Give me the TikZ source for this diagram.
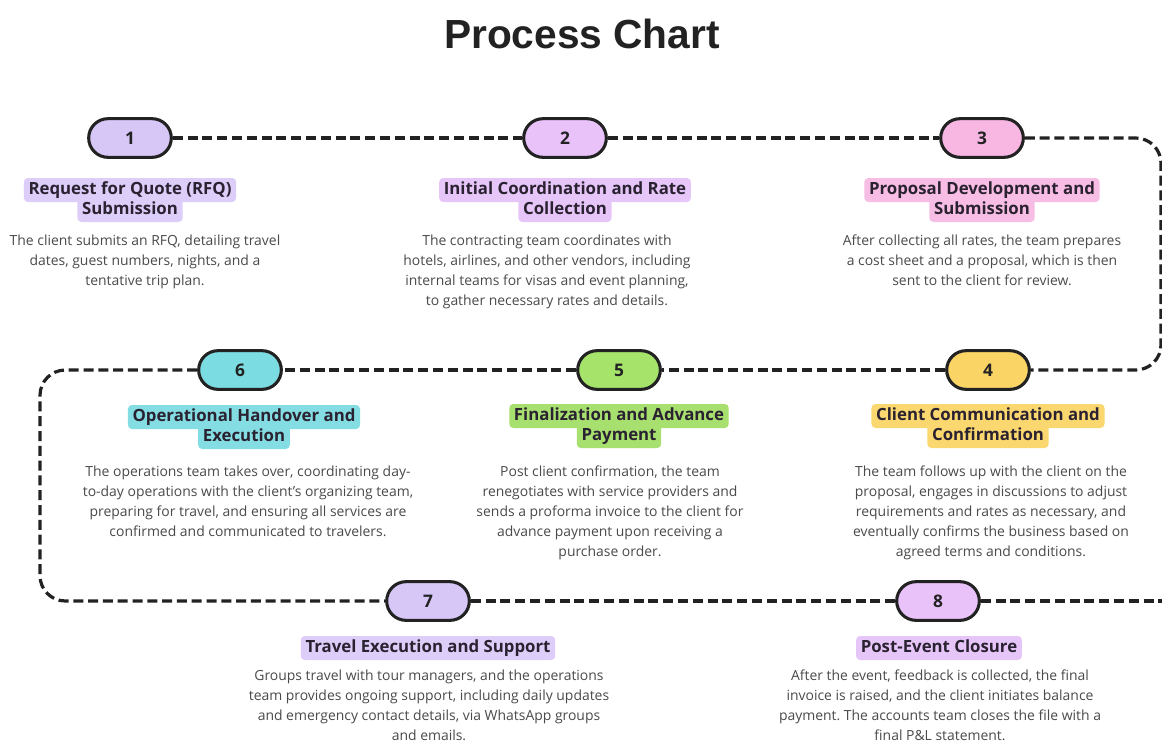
\documentclass[tikz,border=0pt]{standalone}
\usepackage{fontspec}
\setmainfont{Open Sans}
\newfontfamily\titlefont{Liberation Sans}
\usetikzlibrary{arrows}
\usepackage{xcolor}
\frenchspacing
\definecolor{ink}{HTML}{222222}
\definecolor{bodygray}{HTML}{4A4A4A}
\definecolor{tagink}{HTML}{2A2230}
\definecolor{lavpill}{HTML}{D7C7F7}
\definecolor{lavtag}{HTML}{DCCDF9}
\definecolor{orchpill}{HTML}{E9C2F9}
\definecolor{orchtag}{HTML}{E6C6F9}
\definecolor{pinkpill}{HTML}{F8B6E2}
\definecolor{pinktag}{HTML}{F7BDE5}
\definecolor{yelpill}{HTML}{FBD466}
\definecolor{yeltag}{HTML}{FAD86F}
\definecolor{grnpill}{HTML}{A5E36B}
\definecolor{grntag}{HTML}{A8E06F}
\definecolor{cyanpill}{HTML}{7BDCE1}
\definecolor{cyantag}{HTML}{84DDE3}

\begin{document}
\begin{tikzpicture}[line cap=round,line join=round,x=0.75pt,y=-0.75pt,
pill/.style={draw=ink,line width=2.3pt,rounded corners=14.5pt,minimum width=62pt,minimum height=29pt,inner sep=0pt,font=\bfseries\fontsize{13}{14}\selectfont,text=ink},
link/.style={draw=ink,line width=2.4pt,line cap=butt,dash pattern=on 7.5pt off 3.6pt},
tag/.style={rounded corners=3pt,inner xsep=3.5pt,inner ysep=3pt,text height=9.2pt,text depth=2.8pt,font=\bfseries\fontsize{12.6}{14}\selectfont,text=tagink},
info/.style={anchor=north,align=center,inner sep=0pt,font=\fontsize{10.45}{15}\selectfont,text=bodygray}]
\useasboundingbox (0,0) rectangle (1162,743);
\clip (0,0) rectangle (1162,743);
\fill[white] (0,0) rectangle (1162,743);
\node[font=\titlefont\bfseries\fontsize{30.5}{34}\selectfont,text=ink] (title) at (582,34) {Process Chart};
\node[pill,fill=lavpill] (p1) at (130,138) {1};
\node[pill,fill=orchpill] (p2) at (565,138) {2};
\node[pill,fill=pinkpill] (p3) at (982,138) {3};
\node[pill,fill=yelpill] (p4) at (988,370) {4};
\node[pill,fill=grnpill] (p5) at (619,370) {5};
\node[pill,fill=cyanpill] (p6) at (240,370) {6};
\node[pill,fill=lavpill] (p7) at (428,601) {7};
\node[pill,fill=orchpill] (p8) at (938,601) {8};
\coordinate (r1) at (1161,138);
\coordinate (r2) at (1161,370);
\coordinate (l1) at (40,370);
\coordinate (l2) at (40,601);
\coordinate (r3) at (1180,601);
\draw[link] (p1) -- (p2);
\draw[link] (p2) -- (p3);
\draw[link,rounded corners=19pt] (p3) -- (r1) -- (r2) -- (p4);
\draw[link] (p4) -- (p5);
\draw[link] (p5) -- (p6);
\draw[link,rounded corners=19pt] (p6) -- (l1) -- (l2) -- (p7);
\draw[link] (p7) -- (p8);
\draw[link] (p8) -- (r3);
\node[tag,fill=lavtag] (t1a) at (130,190) {Request for Quote (RFQ)};
\node[tag,fill=lavtag] (t1b) at (130,210) {Submission};
\node[tag,fill=orchtag] (t2a) at (565,190) {Initial Coordination and Rate};
\node[tag,fill=orchtag] (t2b) at (565,210) {Collection};
\node[tag,fill=pinktag] (t3a) at (982,190) {Proposal Development and};
\node[tag,fill=pinktag] (t3b) at (982,210) {Submission};
\node[tag,fill=cyantag] (t6a) at (244,417) {Operational Handover and};
\node[tag,fill=cyantag] (t6b) at (244,437) {Execution};
\node[tag,fill=grntag] (t5a) at (619,416) {Finalization and Advance};
\node[tag,fill=grntag] (t5b) at (619,436) {Payment};
\node[tag,fill=yeltag] (t4a) at (988,416) {Client Communication and};
\node[tag,fill=yeltag] (t4b) at (988,436) {Confirmation};
\node[tag,fill=lavtag] (t7) at (428,648) {Travel Execution and Support};
\node[tag,fill=orchtag] (t8) at (939,648) {Post-Event Closure};
\node[info] (d1) at (145,235) {The client submits an RFQ, detailing travel\\dates, guest numbers, nights, and a\\tentative trip plan.};
\node[info] (d2) at (547,235) {The contracting team coordinates with\\hotels, airlines, and other vendors, including\\internal teams for visas and event planning,\\to gather necessary rates and details.};
\node[info] (d3) at (982,235) {After collecting all rates, the team prepares\\a cost sheet and a proposal, which is then\\sent to the client for review.};
\node[info] (d6) at (248,466) {The operations team takes over, coordinating day-\\to-day operations with the client's organizing team,\\preparing for travel, and ensuring all services are\\confirmed and communicated to travelers.};
\node[info] (d5) at (610,466) {Post client confirmation, the team\\renegotiates with service providers and\\sends a proforma invoice to the client for\\advance payment upon receiving a\\purchase order.};
\node[info] (d4) at (991,466) {The team follows up with the client on the\\proposal, engages in discussions to adjust\\requirements and rates as necessary, and\\eventually confirms the business based on\\agreed terms and conditions.};
\node[info] (d7) at (429,670) {Groups travel with tour managers, and the operations\\team provides ongoing support, including daily updates\\and emergency contact details, via WhatsApp groups\\and emails.};
\node[info] (d8) at (940,670) {After the event, feedback is collected, the final\\invoice is raised, and the client initiates balance\\payment. The accounts team closes the file with a\\final P\&L statement.};
\end{tikzpicture}
\end{document}
